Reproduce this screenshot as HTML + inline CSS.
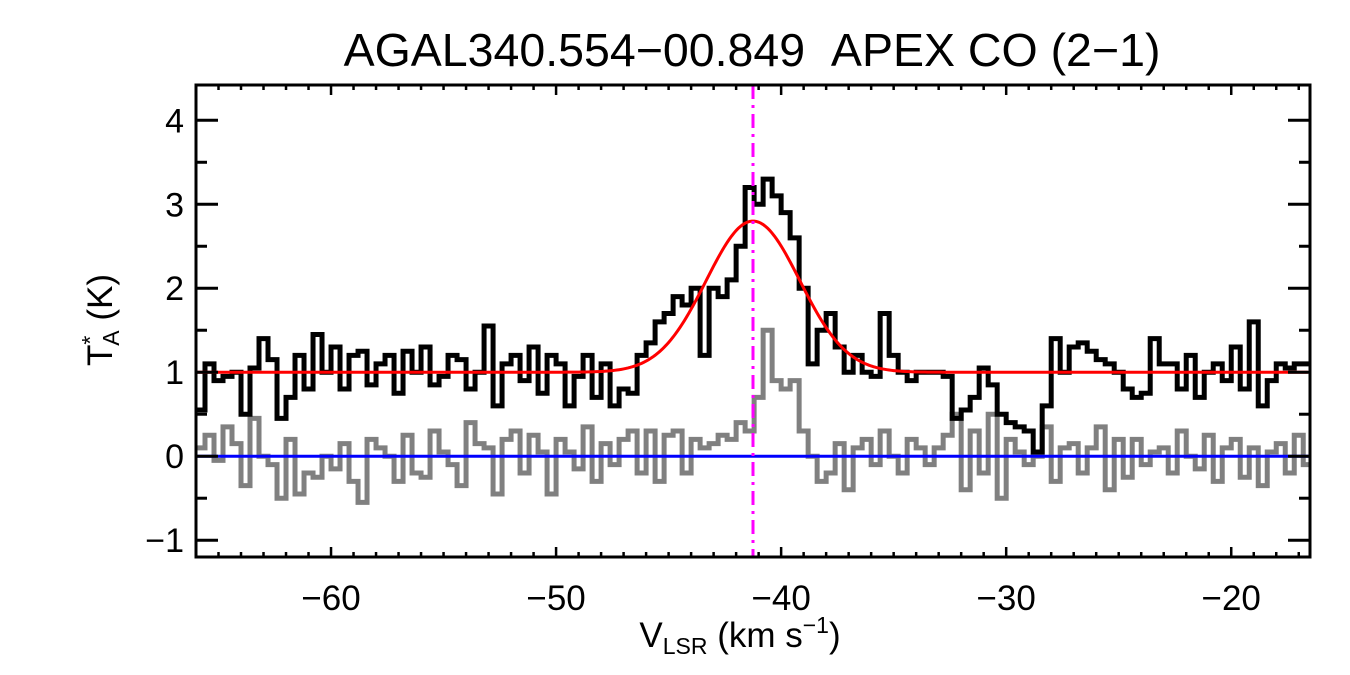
<!DOCTYPE html>
<html><head><meta charset="utf-8"><style>
body{margin:0;background:#fff;width:1350px;height:675px;overflow:hidden}
svg{display:block}
text{font-family:"Liberation Sans",sans-serif;fill:#000}
</style></head><body>
<svg id="chart" width="1350" height="675" xmlns="http://www.w3.org/2000/svg">
<text x="752" y="66" font-size="46.5" text-anchor="middle">AGAL340.554−00.849&#160;&#160;APEX CO (2−1)</text>
<g id="plot"></g>
<g id="axes"></g>
<text x="740" y="647" font-size="35" text-anchor="middle">V<tspan font-size="23" dy="7">LSR</tspan><tspan dy="-7"> (km s</tspan><tspan font-size="23" dy="-14">−1</tspan><tspan dy="14">)</tspan></text>
<text transform="translate(112,320) rotate(-90)" font-size="35" text-anchor="middle">T<tspan font-size="23" dy="-14">*</tspan><tspan font-size="23" dx="-10" dy="21">A</tspan><tspan dy="-7"> (K)</tspan></text>
</svg>
<script>
const v0 = -66.0;
const dv = 0.4;
const spectrum = [0.55,1.1,0.9,0.95,1.0,0.5,1.05,1.4,1.15,0.45,0.7,1.2,0.8,1.45,1.0,1.3,0.8,1.2,1.25,0.85,1.1,1.2,0.75,1.25,1.0,1.3,0.85,0.95,1.2,1.15,0.8,1.0,1.55,0.6,1.1,1.2,0.9,1.3,0.75,1.2,1.1,0.6,0.95,1.2,0.7,1.1,0.6,0.8,
0.75,1.2,1.35,1.6,1.7,1.9,1.8,2.0,1.2,2.0,1.9,2.1,2.5,3.2,3.0,3.3,3.1,2.9,2.6,2.0,1.1,1.5,1.7,1.3,1.0,1.2,1.0,0.95,1.7,1.2,1.0,0.9,1.0,1.0,1.0,
0.95,0.45,0.55,0.7,1.05,0.85,0.5,0.4,0.35,0.3,0.05,0.6,1.4,1.0,1.3,1.35,1.25,1.15,1.1,1.0,0.8,0.7,0.75,1.4,1.1,1.1,0.8,1.2,0.7,1.0,1.1,0.9,1.3,0.8,1.6,0.6,0.9,1.1,1.05,1.1,1.1];
const secondSpectrum = [0.1,0.25,-0.05,0.35,0.15,-0.35,0.45,0.0,-0.1,-0.5,0.2,-0.45,-0.2,-0.25,0.0,-0.15,0.15,-0.3,-0.55,0.2,0.1,0.0,-0.3,0.25,-0.2,-0.25,0.3,0.05,-0.1,-0.35,0.4,0.15,0.1,-0.45,0.2,0.3,-0.2,0.25,0.05,-0.45,0.2,0.05,-0.15,0.35,-0.3,0.15,-0.1,0.2,
0.3,-0.2,0.3,-0.3,0.25,0.3,-0.2,0.2,0.1,0.15,0.25,0.2,0.4,0.3,0.7,1.5,0.9,0.8,0.9,0.3,0.0,-0.3,-0.2,0.15,-0.4,0.1,0.2,-0.1,0.3,0.0,-0.2,0.2,0.1,-0.1,0.1,
0.25,0.5,-0.4,0.3,-0.2,0.5,-0.5,0.2,0.05,-0.1,0.0,0.35,-0.3,0.1,0.15,-0.2,0.1,0.35,-0.4,0.2,-0.25,0.2,-0.1,0.05,0.1,-0.2,0.3,0.0,-0.15,0.25,-0.3,0.1,0.2,-0.25,0.1,-0.35,0.05,0.15,-0.2,0.25,-0.1];
const fitBaseline = 1.0;
const fitAmp = 1.8;
const fitCenter = -41.25;
const fitSigma = 2.08;
const xTicks = [-60,-50,-40,-30,-20];
const yTicks = [-1,0,1,2,3,4];

const L=196,R=1310,T=85,B=557;
const xMin=-66.0,xMax=-16.5,yMin=-1.2,yMax=4.42;
const X=v=>L+(v-xMin)/(xMax-xMin)*(R-L);
const Y=t=>B-(t-yMin)/(yMax-yMin)*(B-T);
const NS="http://www.w3.org/2000/svg";
function mk(tag,attrs,parent){const e=document.createElementNS(NS,tag);for(const k in attrs)e.setAttribute(k,attrs[k]);parent.appendChild(e);return e;}
const plot=document.getElementById('plot'), axes=document.getElementById('axes');
const cp=mk('clipPath',{id:'clip'},plot);mk('rect',{x:L,y:T,width:R-L,height:B-T},cp);
const g=mk('g',{'clip-path':'url(#clip)'},plot);
const gauss=v=>fitBaseline+fitAmp*Math.exp(-0.5*Math.pow((v-fitCenter)/fitSigma,2));
function stepPath(vals){let d='';vals.forEach((t,i)=>{const a=X(v0+i*dv),b=X(v0+(i+1)*dv);d+=(i?'L':'M')+a+','+Y(t)+'L'+b+','+Y(t);});return d;}
let e;
e=mk('path',{d:stepPath(secondSpectrum),fill:'none',stroke:'#808080','stroke-width':5},g);


e=mk('path',{d:stepPath(spectrum),fill:'none',stroke:'#000','stroke-width':5},g);


let fd='';for(let v=xMin;v<=xMax;v+=0.1){fd+=(fd?'L':'M')+X(v)+','+Y(gauss(v));}
e=mk('path',{d:fd,fill:'none',stroke:'#ff0000','stroke-width':3},g);


e=mk('line',{x1:L,x2:R,y1:Y(0),y2:Y(0),stroke:'#0000ff','stroke-width':3},g);


e=mk('line',{x1:X(fitCenter),x2:X(fitCenter),y1:T,y2:B,stroke:'#ff00ff','stroke-width':3,'stroke-dasharray':'14,6,3,6'},g);


e=mk('rect',{x:L,y:T,width:R-L,height:B-T,fill:'none',stroke:'#000','stroke-width':3},axes);


for(let v=-66;v<=-17;v+=1){const maj=v%10===0,len=maj?10:5;
 mk('line',{x1:X(v),x2:X(v),y1:B,y2:B-len,stroke:'#000','stroke-width':2.5},axes);
 mk('line',{x1:X(v),x2:X(v),y1:T,y2:T+len,stroke:'#000','stroke-width':2.5},axes);}
for(let t=-1;t<=4;t+=0.5){const maj=Number.isInteger(t),len=maj?22:11;
 mk('line',{x1:L,x2:L+len,y1:Y(t),y2:Y(t),stroke:'#000','stroke-width':3},axes);
 mk('line',{x1:R,x2:R-len,y1:Y(t),y2:Y(t),stroke:'#000','stroke-width':3},axes);}
xTicks.forEach(v=>{const t=mk('text',{x:X(v),y:610,'font-size':35,'text-anchor':'middle'},axes);t.textContent=String(v).replace('-','−');
 
 });
yTicks.forEach(v=>{const t=mk('text',{x:184,y:Y(v)+12,'font-size':34,'text-anchor':'end'},axes);t.textContent=String(v).replace('-','−');
 
 });
</script>
</body></html>
